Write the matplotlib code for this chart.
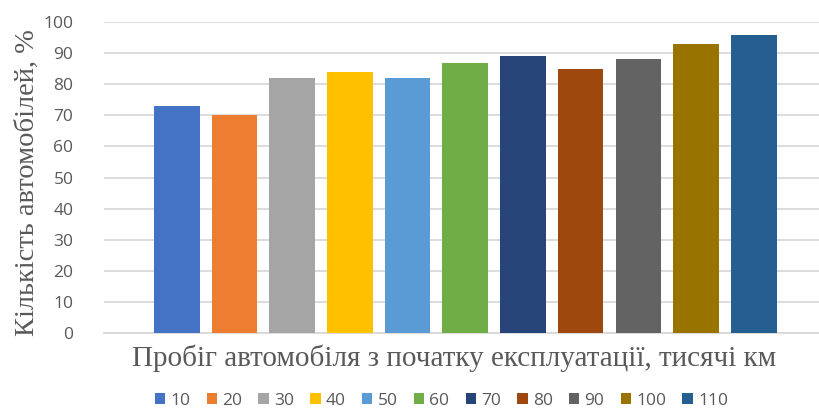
import matplotlib.pyplot as plt

# mileage categories (thousand km) and share of cars, %
mileage = ['10', '20', '30', '40', '50', '60', '70', '80', '90', '100', '110']
share = [73, 70, 82, 84, 82, 87, 89, 85, 88, 93, 96]
colors = ['#4472C4', '#ED7D31', '#A5A5A5', '#FFC000', '#5B9BD5', '#70AD47',
          '#264478', '#9E480E', '#636363', '#997300', '#255E91']

fig = plt.figure(figsize=(8.19, 4.11), dpi=100)
ax = fig.add_axes([0.127, 0.190, 0.873, 0.756])

# each mileage is its own series, like the Excel original
for i, (m, v, c) in enumerate(zip(mileage, share, colors)):
    ax.bar(i, v, width=0.79, color=c, label=m, zorder=3)

ax.set_xlim(-1.26, 11.13)
ax.set_ylim(0, 100)
ax.set_yticks(range(0, 101, 10))
ax.set_xticks([])
ax.grid(axis='y', color='#D9D9D9', linewidth=1.3, zorder=0)
for s in ['top', 'right', 'left']:
    ax.spines[s].set_visible(False)
ax.spines['bottom'].set_color('#D9D9D9')
ax.spines['bottom'].set_linewidth(1.3)
ax.tick_params(axis='y', length=0, pad=22, labelsize=12.5, labelcolor='#595959')
for t in ax.get_yticklabels():
    t.set_fontfamily('Open Sans')

ax.set_ylabel('Кількість автомобілей, %', family='Liberation Serif',
              fontsize=20.5, color='#595959')
ax.yaxis.set_label_coords(-0.089, 0.485)
fig.text(0.554, 0.129, 'Пробіг автомобіля з початку експлуатації, тисячі км',
         family='Liberation Serif', fontsize=21, color='#595959',
         ha='center', va='center')

leg = fig.legend(loc='center', bbox_to_anchor=(0.539, 0.025), ncol=11,
                 frameon=False, handlelength=0.6, handleheight=0.6,
                 handletextpad=0.3, columnspacing=0.93,
                 prop={'family': 'Open Sans', 'size': 12.5})
for t in leg.get_texts():
    t.set_color('#595959')

fig.savefig('out.png', dpi=100)
